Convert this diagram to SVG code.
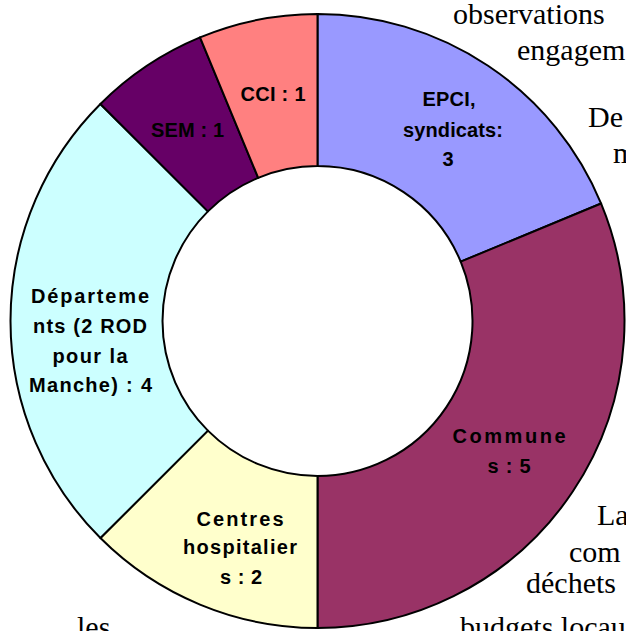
<svg xmlns="http://www.w3.org/2000/svg" width="626" height="631" viewBox="0 0 626 631">
<style>
.bg{font-family:"Liberation Serif","Times New Roman",serif;font-size:30px;fill:#000}
.seg{stroke:#000;stroke-width:2;stroke-linejoin:round}
.lbl{font-family:"Liberation Sans",Arial,sans-serif;font-size:20px;font-weight:bold;fill:#000;text-anchor:middle}
</style>
<rect width="626" height="631" fill="#fff"/>
<g id="background-text">
<text class="bg" x="453" y="24">observations</text>
<text class="bg" x="517" y="60">engagem</text>
<text class="bg" x="588" y="127">De</text>
<text class="bg" x="613" y="163">m</text>
<text class="bg" x="597" y="525">La</text>
<text class="bg" x="569" y="562">com</text>
<text class="bg" x="526" y="593">déchets</text>
<text class="bg" x="460" y="637">budgets locau</text>
<text class="bg" x="77" y="637">les</text>
</g>
<g id="epci">
<path class="seg" fill="#9999FF" d="M317.5,14 A307,307 0 0 1 601.13,203.52 L460.70,261.68 A155,155 0 0 0 317.5,166 Z"/>
<text class="lbl" x="449" y="106" textLength="53">EPCI,</text>
<text class="lbl" x="453" y="137" textLength="100">syndicats:</text>
<text class="lbl" x="448" y="166">3</text>
</g>
<g id="communes">
<path class="seg" fill="#993366" d="M601.13,203.52 A307,307 0 0 1 317.5,628 L317.5,476 A155,155 0 0 0 460.70,261.68 Z"/>
<text class="lbl" x="509" y="443" textLength="113">Commune</text>
<text class="lbl" x="509" y="473" textLength="43">s : 5</text>
</g>
<g id="centres-hospitaliers">
<path class="seg" fill="#FFFFCC" d="M317.5,628 A307,307 0 0 1 100.42,538.08 L207.90,430.60 A155,155 0 0 0 317.5,476 Z"/>
<text class="lbl" x="240" y="526" textLength="87">Centres</text>
<text class="lbl" x="240" y="554" textLength="114">hospitalier</text>
<text class="lbl" x="241" y="584" textLength="42">s : 2</text>
</g>
<g id="departements">
<path class="seg" fill="#CCFFFF" d="M100.42,538.08 A307,307 0 0 1 100.42,103.92 L207.90,211.40 A155,155 0 0 0 207.90,430.60 Z"/>
<text class="lbl" x="90" y="303" textLength="118">Départeme</text>
<text class="lbl" x="90" y="333" textLength="114">nts (2 ROD</text>
<text class="lbl" x="90" y="363" textLength="75">pour la</text>
<text class="lbl" x="90.5" y="392" textLength="123">Manche) : 4</text>
</g>
<g id="sem">
<path class="seg" fill="#660066" d="M100.42,103.92 A307,307 0 0 1 200.02,37.37 L258.18,177.80 A155,155 0 0 0 207.90,211.40 Z"/>
<text class="lbl" x="187.5" y="137" textLength="73">SEM : 1</text>
</g>
<g id="cci">
<path class="seg" fill="#FF8080" d="M200.02,37.37 A307,307 0 0 1 317.5,14 L317.5,166 A155,155 0 0 0 258.18,177.80 Z"/>
<text class="lbl" x="273" y="101" textLength="65">CCI : 1</text>
</g>
</svg>
